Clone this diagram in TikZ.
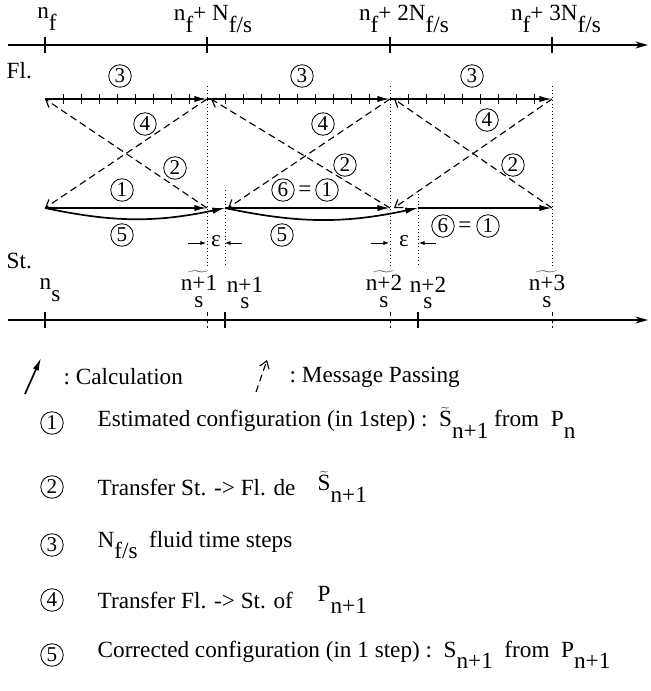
\documentclass[tikz,border=0pt]{standalone}
\usepackage{fontspec}
\setmainfont{Liberation Serif}
\usetikzlibrary{arrows.meta}
\newcommand{\dn}[1]{\raisebox{-0.5em}{#1}}
\newcommand{\tl}[1]{$\widetilde{\mbox{#1}}$}
\newcommand{\stk}[2]{\shortstack{#1\\[1pt]#2}}

\begin{document}
\begin{tikzpicture}[x=0.025cm,y=-0.025cm,font=\fontsize{16.5}{18}\selectfont,
  every node/.style={inner sep=1pt},
  num/.style={draw,circle,inner sep=0pt,minimum size=16pt,line width=0.6pt,font=\fontsize{15}{15}\selectfont},
  axis/.style={line width=0.8pt,-{Stealth[length=9pt,width=5pt]}},
  calc/.style={line width=1.2pt,-{Latex[length=9pt,width=4.5pt]}},
  msg/.style={line width=0.8pt,dash pattern=on 5pt off 3pt,-{Straight Barb[length=5pt,width=7pt]}},
  vline/.style={dotted,line width=0.5pt}]
  \useasboundingbox (0,0) rectangle (651,691);
  % axes
  \coordinate (t0) at (8,45);   \coordinate (t1) at (648,45);
  \coordinate (b0) at (8,320);  \coordinate (b1) at (648,320);
  \draw[axis] (t0) -- (t1);
  \draw[axis] (b0) -- (b1);
  \foreach \x in {45,207,390,552} \draw[line width=0.8pt] (\x,37) -- (\x,53);
  \foreach \x in {45,225,418} \draw[line width=0.8pt] (\x,312) -- (\x,328);
  \foreach \x in {207,390,552} \draw[line width=0.6pt,densely dashed] (\x,312) -- (\x,328);
  \node (lf0) at (47,19) {n\dn{f}};
  \node (lf1) at (213,19) {n\dn{f}+ N\dn{f/s}};
  \node (lf2) at (404,19) {n\dn{f}+ 2N\dn{f/s}};
  \node (lf3) at (556,19) {n\dn{f}+ 3N\dn{f/s}};
  \node[anchor=west] (fl) at (5,71) {Fl.};
  \node[anchor=west] (st) at (5,261) {St.};
  \node (ls0) at (50,290) {n\dn{s}};
  \node (ls1t) at (199,289) {\stk{\tl{n+1}}{s}};
  \node (ls1) at (245,293) {\stk{n+1}{s}};
  \node (ls2t) at (384,289) {\stk{\tl{n+2}}{s}};
  \node (ls2) at (428,293) {\stk{n+2}{s}};
  \node (ls3t) at (547,289) {\stk{\tl{n+3}}{s}};
  % time points
  \coordinate (f0) at (45,99);  \coordinate (f1) at (207,99);
  \coordinate (f2) at (390,99); \coordinate (f3) at (552,99);
  \coordinate (f1b) at (211,99); \coordinate (f2b) at (394,99);
  \coordinate (s0) at (45,208); \coordinate (s1t) at (207,208);
  \coordinate (s1) at (225,208); \coordinate (s2t) at (390,208);
  \coordinate (s2) at (418,208); \coordinate (s3t) at (552,208);
  \coordinate (s1c) at (228,208); \coordinate (s2c) at (394,208);
  % dotted verticals
  \foreach \x/\y in {207/86,225/190,390/86,418/190,552/86} \draw[vline] (\x,\y) -- (\x,266);
  % fluid steps
  \draw[calc] (f0) -- (f1);
  \draw[calc] (f1) -- (f2);
  \draw[calc] (f2) -- (f3);
  \foreach \x in {63,81,...,189,225,243,...,369,408,426,...,534} \draw[line width=0.6pt] (\x,94) -- (\x,104);
  \node[num] (c3a) at (120,76) {3};
  \node[num] (c3b) at (302,76) {3};
  \node[num] (c3c) at (472,76) {3};
  % structure steps
  \draw[calc] (s0) -- (s1t);
  \draw[calc] (s0) to[bend right=12] (s1);
  \draw[calc] (s1) -- (s2t);
  \draw[calc] (s1) to[bend right=12] (s2);
  \draw[calc] (s2) -- (s3t);
  % message passing
  \draw[msg] (f1) -- (s0);
  \draw[msg] (s1t) -- (f0);
  \draw[msg] (f2) -- (s1c);
  \draw[msg] (s2t) -- (f1b);
  \draw[msg] (f3) -- (s2c);
  \draw[msg] (s3t) -- (f2b);
  \node[num] (c4a) at (145,124) {4};
  \node[num] (c4b) at (323,124) {4};
  \node[num] (c4c) at (487,120) {4};
  \node[num] (c2a) at (175,168) {2};
  \node[num] (c2b) at (345,165) {2};
  \node[num] (c2c) at (513,165) {2};
  \node[num] (c1a) at (122,190) {1};
  \node[num] (c6a) at (283,190) {6};
  \node (eqa) at (305,191) {=};
  \node[num] (c1b) at (327,190) {1};
  \node[num] (c5a) at (122,235) {5};
  \node[num] (c5b) at (282,235) {5};
  \node[num] (c6b) at (443,226) {6};
  \node (eqb) at (465,227) {=};
  \node[num] (c1c) at (488,226) {1};
  % epsilon
  \coordinate (e1a) at (188,243); \coordinate (e1b) at (206,243);
  \coordinate (e1c) at (242,243); \coordinate (e1d) at (225,243);
  \coordinate (e2a) at (371,243); \coordinate (e2b) at (389,243);
  \coordinate (e2c) at (436,243); \coordinate (e2d) at (419,243);
  \draw[line width=0.6pt,-{Latex[length=4pt,width=3pt]}] (e1a) -- (e1b);
  \draw[line width=0.6pt,-{Latex[length=4pt,width=3pt]}] (e1c) -- (e1d);
  \draw[line width=0.6pt,-{Latex[length=4pt,width=3pt]}] (e2a) -- (e2b);
  \draw[line width=0.6pt,-{Latex[length=4pt,width=3pt]}] (e2c) -- (e2d);
  \node (eps1) at (216,241) {ε};
  \node (eps2) at (404,241) {ε};
  % legend
  \coordinate (ka) at (25,394);  \coordinate (kb) at (41,358);
  \coordinate (ma) at (256,392); \coordinate (mb) at (267,360);
  \draw[calc] (ka) -- (kb);
  \draw[msg] (ma) -- (mb);
  \node[anchor=west] (kcalc) at (62,377) {:\ Calculation};
  \node[anchor=west] (kmsg) at (288,377) {:\ Message Passing};
  \node[num] (k1) at (52,423) {1};
  \node[num] (k2) at (52,487) {2};
  \node[num] (k3) at (52,545) {3};
  \node[num] (k4) at (52,600) {4};
  \node[num] (k5) at (52,655) {5};
  \node[anchor=west] (t1) at (96,423) {Estimated configuration (in 1step) :\ \ \tl{S}\dn{n+1}\ from\ \ P\dn{n}};
  \node[anchor=west] (t2) at (96,487) {Transfer St. -> Fl. de};
  \node[anchor=west] (t2s) at (316,487) {\tl{S}\dn{n+1}};
  \node[anchor=west] (t3) at (96,545) {N\dn{f/s}\ \ fluid time steps};
  \node[anchor=west] (t4) at (96,600) {Transfer Fl. -> St. of};
  \node[anchor=west] (t4p) at (316,600) {P\dn{n+1}};
  \node[anchor=west] (t5) at (96,655) {Corrected configuration (in 1 step) :\ \ S\dn{n+1}\ \ from\ \ P\dn{n+1}};
\end{tikzpicture}
\end{document}
